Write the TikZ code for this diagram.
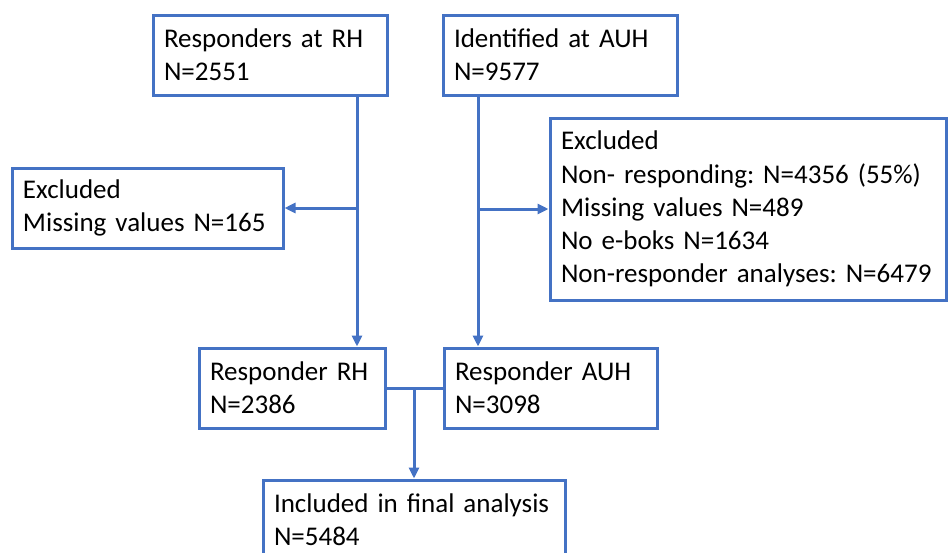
\documentclass[tikz,border=0pt]{standalone}
\usepackage{fontspec}
\setmainfont{Carlito}
\usetikzlibrary{arrows.meta}
\definecolor{officeblue}{RGB}{68,114,196}

\begin{document}
\begin{tikzpicture}[x=0.5pt, y=-0.5pt]
	\tikzstyle{box}  = [draw=officeblue, line width=1.5pt, fill=white, align=left, inner xsep=5.5pt, inner ysep=0pt, font=\fontsize{13.5}{16.6}\selectfont\frenchspacing]
	\tikzstyle{line} = [draw=officeblue, line width=1.5pt]
	\tikzstyle{arr}  = [line, -{Triangle[length=5.5pt, width=5pt]}]

	\useasboundingbox (0,0) rectangle (948,552);
	\clip (0,0) rectangle (948,552);

	% sources
	\node[box, minimum height=40pt, text width=106pt] (rh) at (270,55) {Responders at RH\\N=2551};
	\node[box, minimum height=40pt, text width=106pt] (auh) at (560,55) {Identified at AUH\\N=9577};

	% exclusions
	\node[box, minimum height=40pt, text width=124.5pt] (exclL) at (147.5,208) {Excluded\\Missing values N=165};
	\node[box, minimum height=91pt, text width=187pt] (exclR) at (748,209) {Excluded\\Non- responding: N=4356 (55\%)\\Missing values N=489\\No e-boks N=1634\\Non-responder~analyses:~N=6479};

	% responders
	\node[box, minimum height=40pt, text width=82pt] (resRH) at (292,388) {Responder RH\\N=2386};
	\node[box, minimum height=40pt, text width=95.5pt] (resAUH) at (550.5,388) {Responder AUH\\N=3098};

	\node[box, minimum height=40pt, text width=140pt] (final) at (414,520) {Included in final analysis\\N=5484};

	\coordinate (rhx) at (357,95);
	\coordinate (auhx) at (478,95);

	\draw[arr] (rh.south -| rhx) -- (resRH.north -| rhx);
	\draw[arr] (rhx |- exclL.east) -- (exclL.east);
	\draw[arr] (auh.south -| auhx) -- (resAUH.north -| auhx);
	\draw[arr] (auhx |- exclR.west) -- (exclR.west);
	\draw[line] (resRH.east) -- (resAUH.west);
	\draw[arr] (resRH.east -| final.north) -- (final.north);
\end{tikzpicture}
\end{document}
